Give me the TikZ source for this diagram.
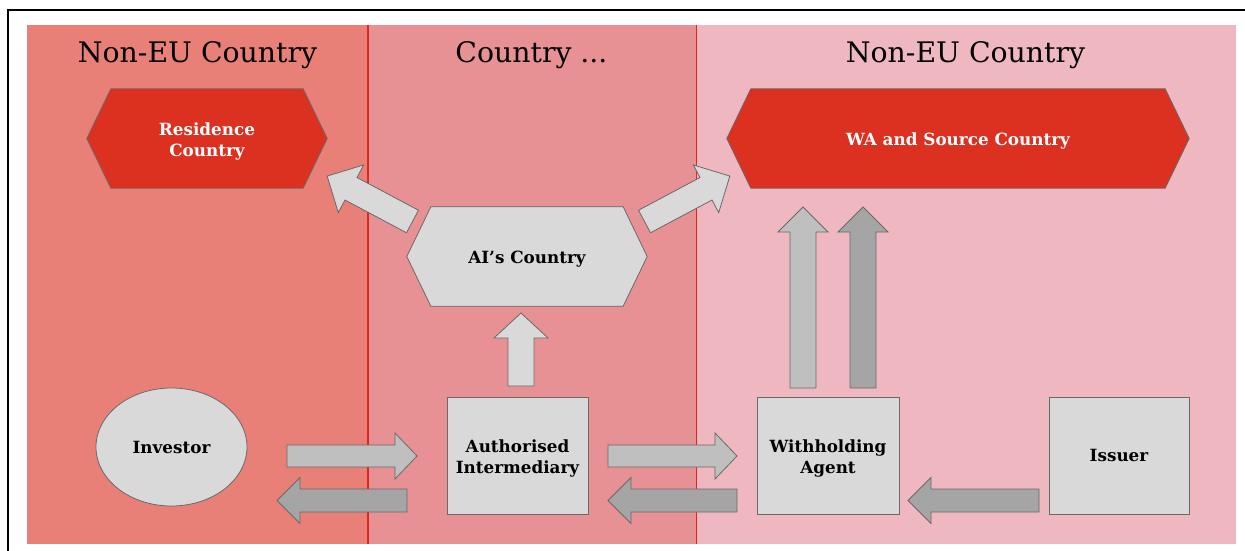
\documentclass[tikz,border=0pt]{standalone}
\usepackage{fontspec}
\setmainfont{DejaVu Serif}
\usetikzlibrary{calc,shapes.geometric}
\pgfdeclarelayer{panels}
\pgfdeclarelayer{shapes}
\pgfsetlayers{panels,shapes,main}

\definecolor{panelA}{RGB}{233,128,119}
\definecolor{panelB}{RGB}{232,145,148}
\definecolor{panelC}{RGB}{239,184,193}
\definecolor{divider}{RGB}{224,38,27}
\definecolor{hexred}{RGB}{220,48,32}
\definecolor{boxgray}{RGB}{217,217,217}
\definecolor{edgegray}{RGB}{105,105,105}
\definecolor{arrowmid}{RGB}{191,191,191}
\definecolor{arrowdark}{RGB}{165,165,165}

% block arrow from #1 (tail) to #2 (tip): half shaft #3, half head #4, head length #5, fill #6
\newcommand\blockarrow[6]{%
  \path let \p1=($(#2)-(#1)$) in \pgfextra{%
    \pgfmathsetmacro\baang{atan2(\y1,\x1)}\global\let\baang\baang
    \pgfmathsetmacro\balen{veclen(\x1,\y1)}\global\let\balen\balen};
  \begin{scope}[shift={(#1)},rotate=\baang,x=1pt,y=1pt]
    \draw[blockedge,fill=#6] (0,-#3) -- (\balen-#5,-#3) -- (\balen-#5,-#4) -- (\balen,0)
      -- (\balen-#5,#4) -- (\balen-#5,#3) -- (0,#3) -- cycle;
  \end{scope}}

% hexagon behind a node: #1 node name, #2 corner inset, #3 fill
\newcommand\hexback[3]{%
  \begin{pgfonlayer}{shapes}
    \draw[hexedge,fill=#3] (#1.west) -- ([xshift=#2]#1.north west) -- ([xshift=-#2]#1.north east)
      -- (#1.east) -- ([xshift=-#2]#1.south east) -- ([xshift=#2]#1.south west) -- cycle;
  \end{pgfonlayer}}

\begin{document}
\begin{tikzpicture}[x=1pt,y=-1pt,
  title/.style={font=\fontsize{28.3}{32}\selectfont, inner sep=0pt, anchor=base},
  lbl/.style={font=\bfseries\fontsize{16.8}{21}\selectfont, align=center, inner sep=0pt},
  txt/.style={lbl, yshift=-2.5pt},
  whitetxt/.style={txt, text=white},
  box/.style={lbl, draw=edgegray, line width=0.8pt, fill=boxgray},
  hexnode/.style={lbl, minimum height=99pt},
  hexedge/.style={draw=edgegray, line width=0.8pt},
  blockedge/.style={draw=edgegray, line width=0.8pt, line join=miter}]
\useasboundingbox (0,0) rectangle (1245,551);

% country panels
\begin{pgfonlayer}{panels}
  \fill[panelA] (27,25) rectangle (368,544);
  \fill[panelB] (368,25) rectangle (696,544);
  \fill[panelC] (696,25) rectangle (1236,544);
  \draw[divider, line width=1.5pt] (368,25) -- (368,544);
  \draw[divider, line width=0.8pt] (696,25) -- (696,544);
  \draw[line width=2pt] (8,551) -- (8,10) -- (1245,10);
\end{pgfonlayer}

% panel titles
\node[title] (t1) at (197.5,63) {Non-EU Country};
\node[title] (t2) at (531.5,63) {Country ...};
\node[title] (t3) at (965.5,63) {Non-EU Country};

% country hexagons
\node[hexnode, minimum width=240pt, label={[whitetxt]center:{Residence\\Country}}] (res) at (207,138.5) {};
\hexback{res}{24pt}{hexred}
\node[hexnode, minimum width=462pt, label={[whitetxt]center:{WA and Source Country}}] (src) at (958,138.5) {};
\hexback{src}{24pt}{hexred}
\node[hexnode, minimum width=240pt, label={[txt]center:{AI’s Country}}] (aic) at (527,256.5) {};
\hexback{aic}{24pt}{boxgray}

% parties
\node[box, ellipse, minimum width=151pt, minimum height=118pt] (inv) at (171.5,447) {Investor};
\node[box, minimum width=141pt, minimum height=117pt, label={[txt]center:{Authorised\\Intermediary}}] (ai) at (517.5,455.5) {};
\node[box, minimum width=142pt, minimum height=117pt, label={[txt]center:{Withholding\\Agent}}] (wa) at (828,455.5) {};
\node[box, minimum width=140pt, minimum height=117pt] (iss) at (1119,455.5) {Issuer};

% arrow end points
\coordinate (invOut) at (287,456);   \coordinate (aiIn) at (417,456);
\coordinate (aiOut) at (407,500.5);  \coordinate (invIn) at (277,500.5);
\coordinate (aiFwd) at (608,456);    \coordinate (waIn) at (737,456);
\coordinate (waBack) at (737,500.5); \coordinate (aiBack) at (608,500.5);
\coordinate (issOut) at (1039,500.5);\coordinate (waFromIss) at (908,500.5);
\coordinate (aiUp) at (521,386);     \coordinate (aicIn) at (521,313);
\coordinate (waUpA) at (803,388);    \coordinate (srcInA) at (803,207);
\coordinate (waUpB) at (863,388);    \coordinate (srcInB) at (863,207);
\coordinate (aicL) at (412.5,221.5); \coordinate (resIn) at (327,176);
\coordinate (aicR) at (644.5,221.5); \coordinate (srcInC) at (730,176);

\begin{pgfonlayer}{shapes}
\blockarrow{invOut}{aiIn}{11}{23}{22}{arrowmid}
\blockarrow{aiOut}{invIn}{11.5}{23}{23}{arrowdark}
\blockarrow{aiFwd}{waIn}{11}{23}{22}{arrowmid}
\blockarrow{waBack}{aiBack}{11.5}{23}{23}{arrowdark}
\blockarrow{issOut}{waFromIss}{11.5}{23}{23}{arrowdark}
\blockarrow{aiUp}{aicIn}{13}{27}{25}{boxgray}
\blockarrow{waUpA}{srcInA}{13}{25}{25}{arrowmid}
\blockarrow{waUpB}{srcInB}{13}{25}{25}{arrowdark}
\blockarrow{aicL}{resIn}{12.75}{27}{27}{boxgray}
\blockarrow{aicR}{srcInC}{12.75}{27}{27}{boxgray}
\end{pgfonlayer}
\end{tikzpicture}
\end{document}
